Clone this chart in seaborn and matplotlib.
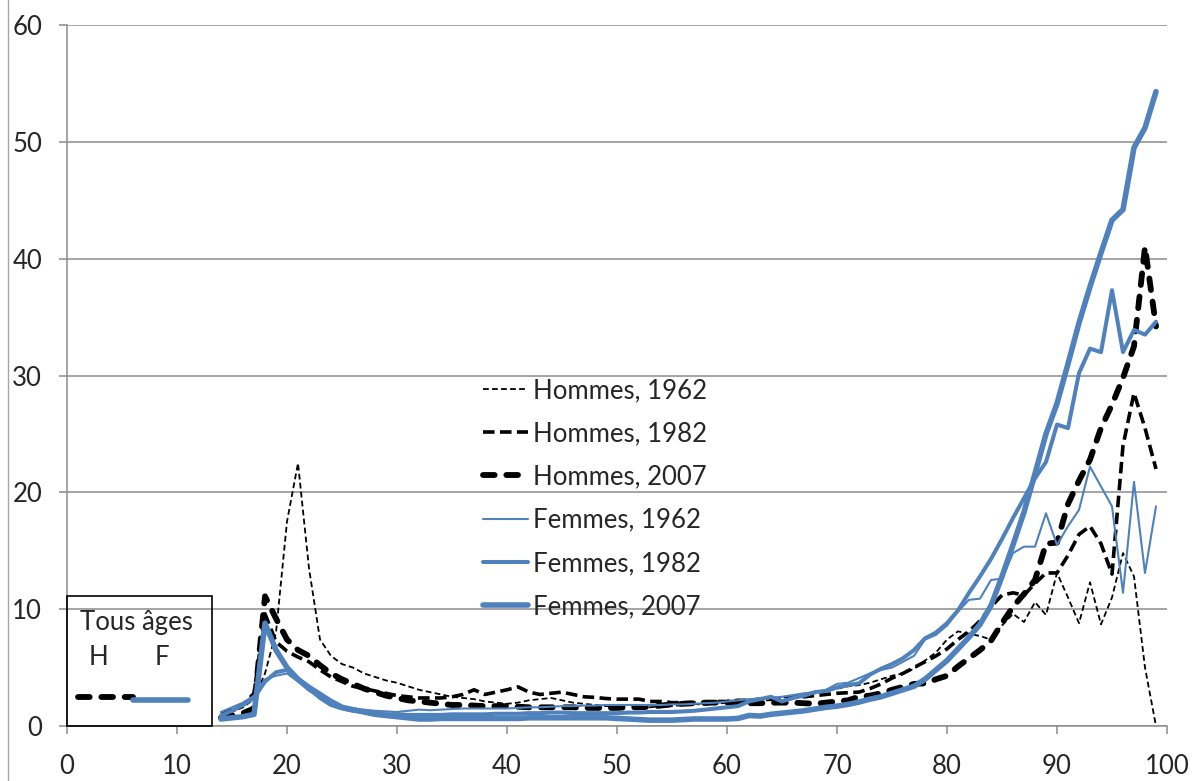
import matplotlib
matplotlib.use("Agg")
import matplotlib.pyplot as plt
import seaborn as sns
from matplotlib.patches import Rectangle
from matplotlib.lines import Line2D

# ---------------- data ----------------
ages = list(range(14, 100))

hommes_1962 = [1.0, 1.2, 1.6, 2.3, 4.5, 8.0, 17.5, 22.5, 13.5, 7.4,
               6.0, 5.3, 5.0, 4.5, 4.2, 3.9, 3.7, 3.4, 3.1, 2.9,
               2.7, 2.5, 2.4, 2.3, 2.1, 2.0, 1.9, 2.0, 2.2, 2.3,
               2.4, 2.2, 2.0, 1.9, 1.8, 1.7, 1.7, 1.8, 1.7, 1.6,
               1.7, 1.7, 1.8, 1.9, 1.8, 1.9, 2.0, 2.0, 2.1, 2.2,
               2.2, 2.4, 2.6, 2.7, 2.8, 3.0, 3.2, 3.4, 3.5, 3.7,
               4.0, 4.3, 4.5, 4.9, 5.6, 6.3, 7.4, 8.1, 7.9, 7.7,
               7.4, 8.6, 9.6, 8.9, 10.6, 9.5, 13.1, 11.0, 8.8, 12.3,
               8.7, 11.0, 14.8, 12.8, 5.0, 0.0]

hommes_1982 = [1.1, 1.4, 1.8, 2.8, 9.6, 7.2, 6.4, 5.9, 5.5, 4.8,
               4.2, 3.8, 3.4, 3.2, 3.0, 2.8, 2.6, 2.5, 2.4, 2.4,
               2.4, 2.5, 2.7, 3.1, 2.7, 2.9, 3.1, 3.35, 2.9, 2.7,
               2.8, 2.9, 2.7, 2.5, 2.45, 2.35, 2.3, 2.3, 2.3, 2.1,
               2.1, 2.0, 2.0, 2.0, 2.0, 2.1, 2.1, 2.2, 2.2, 2.3,
               2.3, 2.4, 2.5, 2.5, 2.6, 2.7, 2.8, 2.85, 2.9, 3.2,
               3.6, 4.1, 4.5, 5.0, 5.5, 6.0, 6.6, 7.4, 8.1, 9.0,
               10.2, 11.2, 11.4, 11.2, 12.2, 13.1, 13.1, 14.6, 16.4, 17.1,
               15.6, 13.0, 24.0, 28.5, 25.5, 22.0]

hommes_2007 = [0.7, 0.9, 1.1, 1.5, 11.1, 9.2, 7.4, 6.5, 6.0, 5.2,
               4.5, 4.0, 3.6, 3.2, 2.9, 2.6, 2.4, 2.2, 2.1, 2.0,
               1.9, 1.8, 1.8, 1.75, 1.7, 1.7, 1.7, 1.65, 1.6, 1.6,
               1.6, 1.6, 1.6, 1.55, 1.55, 1.55, 1.55, 1.6, 1.6, 1.65,
               1.75, 1.85, 1.9, 1.95, 2.0, 2.0, 2.0, 2.0, 1.95, 1.95,
               2.0, 2.0, 2.0, 1.95, 1.9, 2.0, 2.1, 2.2, 2.5, 2.6,
               2.8, 3.1, 3.35, 3.6, 3.65, 4.0, 4.3, 5.1, 5.8, 6.5,
               7.3, 8.8, 10.2, 11.3, 12.5, 15.6, 15.7, 19.0, 21.0, 22.8,
               25.5, 27.5, 29.8, 32.5, 41.0, 34.2]

femmes_1962 = [1.2, 1.6, 2.0, 2.6, 4.0, 4.3, 4.5, 3.8, 3.0, 2.5,
               1.9, 1.6, 1.5, 1.4, 1.3, 1.25, 1.2, 1.3, 1.4, 1.35,
               1.4, 1.45, 1.5, 1.5, 1.5, 1.5, 1.5, 1.55, 1.6, 1.6,
               1.65, 1.7, 1.7, 1.75, 1.75, 1.8, 1.8, 1.8, 1.8, 1.8,
               1.8, 1.85, 1.85, 1.9, 1.95, 2.0, 2.1, 2.2, 2.3, 2.35,
               2.4, 2.5, 2.65, 2.8, 2.9, 3.1, 3.6, 3.7, 4.1, 4.5,
               4.8, 5.0, 5.5, 6.0, 7.4, 7.8, 8.6, 9.8, 10.8, 10.9,
               12.5, 12.6, 14.8, 15.35, 15.35, 18.2, 15.5, 17.1, 18.5, 22.2,
               20.5, 18.8, 11.4, 20.9, 13.1, 18.8]

femmes_1982 = [0.9, 1.3, 1.8, 2.4, 3.8, 4.6, 4.8, 4.0, 3.2, 2.4,
               1.8, 1.5, 1.3, 1.2, 1.1, 1.0, 1.0, 0.95, 0.95, 0.95,
               0.95, 1.0, 1.0, 1.0, 1.0, 1.05, 1.05, 1.05, 1.1, 1.1,
               1.15, 1.15, 1.1, 1.1, 1.1, 1.1, 1.1, 1.15, 1.15, 1.2,
               1.2, 1.2, 1.25, 1.3, 1.4, 1.5, 1.6, 1.7, 2.1, 2.3,
               2.5, 2.1, 2.4, 2.6, 2.9, 3.0, 3.3, 3.5, 3.65, 4.4,
               4.9, 5.3, 5.8, 6.5, 7.5, 8.0, 8.8, 9.9, 11.4, 12.8,
               14.3, 16.0, 17.8, 19.5, 21.2, 22.6, 25.8, 25.5, 30.2, 32.3,
               32.0, 37.3, 32.0, 33.9, 33.5, 34.6]

femmes_2007 = [0.6, 0.7, 0.8, 1.0, 8.8, 6.5, 5.0, 4.0, 3.3, 2.7,
               2.1, 1.6, 1.4, 1.2, 1.0, 0.9, 0.8, 0.7, 0.6, 0.6,
               0.65, 0.65, 0.65, 0.65, 0.65, 0.65, 0.65, 0.65, 0.7, 0.7,
               0.7, 0.7, 0.7, 0.7, 0.7, 0.7, 0.65, 0.6, 0.55, 0.5,
               0.5, 0.5, 0.55, 0.6, 0.6, 0.6, 0.6, 0.65, 0.9, 0.85,
               1.0, 1.1, 1.2, 1.3, 1.45, 1.6, 1.7, 1.85, 2.05, 2.3,
               2.5, 2.8, 3.1, 3.4, 4.0, 4.8, 5.6, 6.6, 7.6, 8.7,
               10.3, 12.8, 15.5, 18.3, 21.6, 25.0, 27.6, 31.0, 34.5, 37.6,
               40.5, 43.3, 44.2, 49.5, 51.2, 54.3]

tous_ages_h_x = [1, 2, 3, 4, 5, 6]
tous_ages_h = [2.5, 2.5, 2.5, 2.5, 2.5, 2.5]
tous_ages_f_x = [6, 7, 8, 9, 10, 11]
tous_ages_f = [2.25, 2.25, 2.25, 2.25, 2.25, 2.25]

labels = ["Hommes, 1962", "Hommes, 1982", "Hommes, 2007",
          "Femmes, 1962", "Femmes, 1982", "Femmes, 2007"]
x_ticks = list(range(0, 101, 10))
y_ticks = list(range(0, 61, 10))

# ---------------- style ----------------
sns.set_style("white")
plt.rcParams['font.family'] = ['Lato', 'DejaVu Sans']
FS = 18.5
BLUE = "#4F81BD"
GRAY = "#8C8C8C"

fig = plt.figure(figsize=(12, 7.81), dpi=100)
ax = fig.add_axes([67 / 1200, 55 / 781, 1100 / 1200, 701 / 781])

series = [
    (hommes_1962, "black", 1.3, (0, (3.2, 1.8)), "butt"),
    (hommes_1982, "black", 2.6, (0, (3.2, 1.5)), "butt"),
    (hommes_2007, "black", 4.2, (0, (2.0, 2.0)), "round"),
    (femmes_1962, BLUE, 1.5, "-", "round"),
    (femmes_1982, BLUE, 2.9, "-", "round"),
    (femmes_2007, BLUE, 4.0, "-", "round"),
]

for (vals, col, lw, ls, cap), lab in zip(series, labels):
    sns.lineplot(x=ages, y=vals, ax=ax, color=col, linewidth=lw,
                 linestyle=ls, dash_capstyle=cap, solid_capstyle=cap,
                 label=lab, estimator=None, errorbar=None, sort=False)

sns.lineplot(x=tous_ages_h_x, y=tous_ages_h, ax=ax, color="black",
             linewidth=4.2, linestyle=(0, (2.0, 2.0)), dash_capstyle="round",
             estimator=None, errorbar=None, legend=False)
sns.lineplot(x=tous_ages_f_x, y=tous_ages_f, ax=ax, color=BLUE,
             linewidth=4.0, solid_capstyle="round",
             estimator=None, errorbar=None, legend=False)

# axes
ax.set_xlim(0, 100)
ax.set_ylim(0, 60)
ax.set_xticks(x_ticks)
ax.set_yticks(y_ticks)
ax.set_xlabel("")
ax.set_ylabel("")
ax.yaxis.grid(True, color=GRAY, linewidth=1.1)
ax.xaxis.grid(False)
ax.set_axisbelow(True)
for s in ["top", "right"]:
    ax.spines[s].set_visible(False)
for s in ["left", "bottom"]:
    ax.spines[s].set_color(GRAY)
    ax.spines[s].set_linewidth(1.1)
ax.tick_params(axis="x", direction="out", length=6, width=1.1, color=GRAY,
               labelsize=FS, pad=14, bottom=True)
ax.tick_params(axis="y", direction="out", length=6, width=1.1, color=GRAY,
               labelsize=FS, pad=12, left=True)

# legend
handles = ax.get_lines()[:6]
leg = ax.legend(handles=handles, labels=labels, frameon=False, fontsize=FS,
                loc="center left", bbox_to_anchor=(483 / 1200, (781 - 498.5) / 781),
                bbox_transform=fig.transFigure, borderpad=0, borderaxespad=0,
                handlelength=1.75, handletextpad=0.2, labelspacing=0.71)

# "Tous âges" inset box
ax.add_patch(Rectangle((0, 0), 13.15, 11.1, fill=False, edgecolor="black",
                       linewidth=1.2, zorder=5, clip_on=False))
ax.text(6.3, 8.9, "Tous âges", ha="center", va="center", fontsize=FS)
ax.text(2.85, 5.9, "H", ha="center", va="center", fontsize=FS)
ax.text(8.6, 5.9, "F", ha="center", va="center", fontsize=FS)

# chart border line on the left edge
fig.add_artist(Line2D([8 / 1200, 8 / 1200], [0, 1], transform=fig.transFigure,
                      color="#A6A6A6", linewidth=1.0))

fig.savefig("out.png", dpi=100)
